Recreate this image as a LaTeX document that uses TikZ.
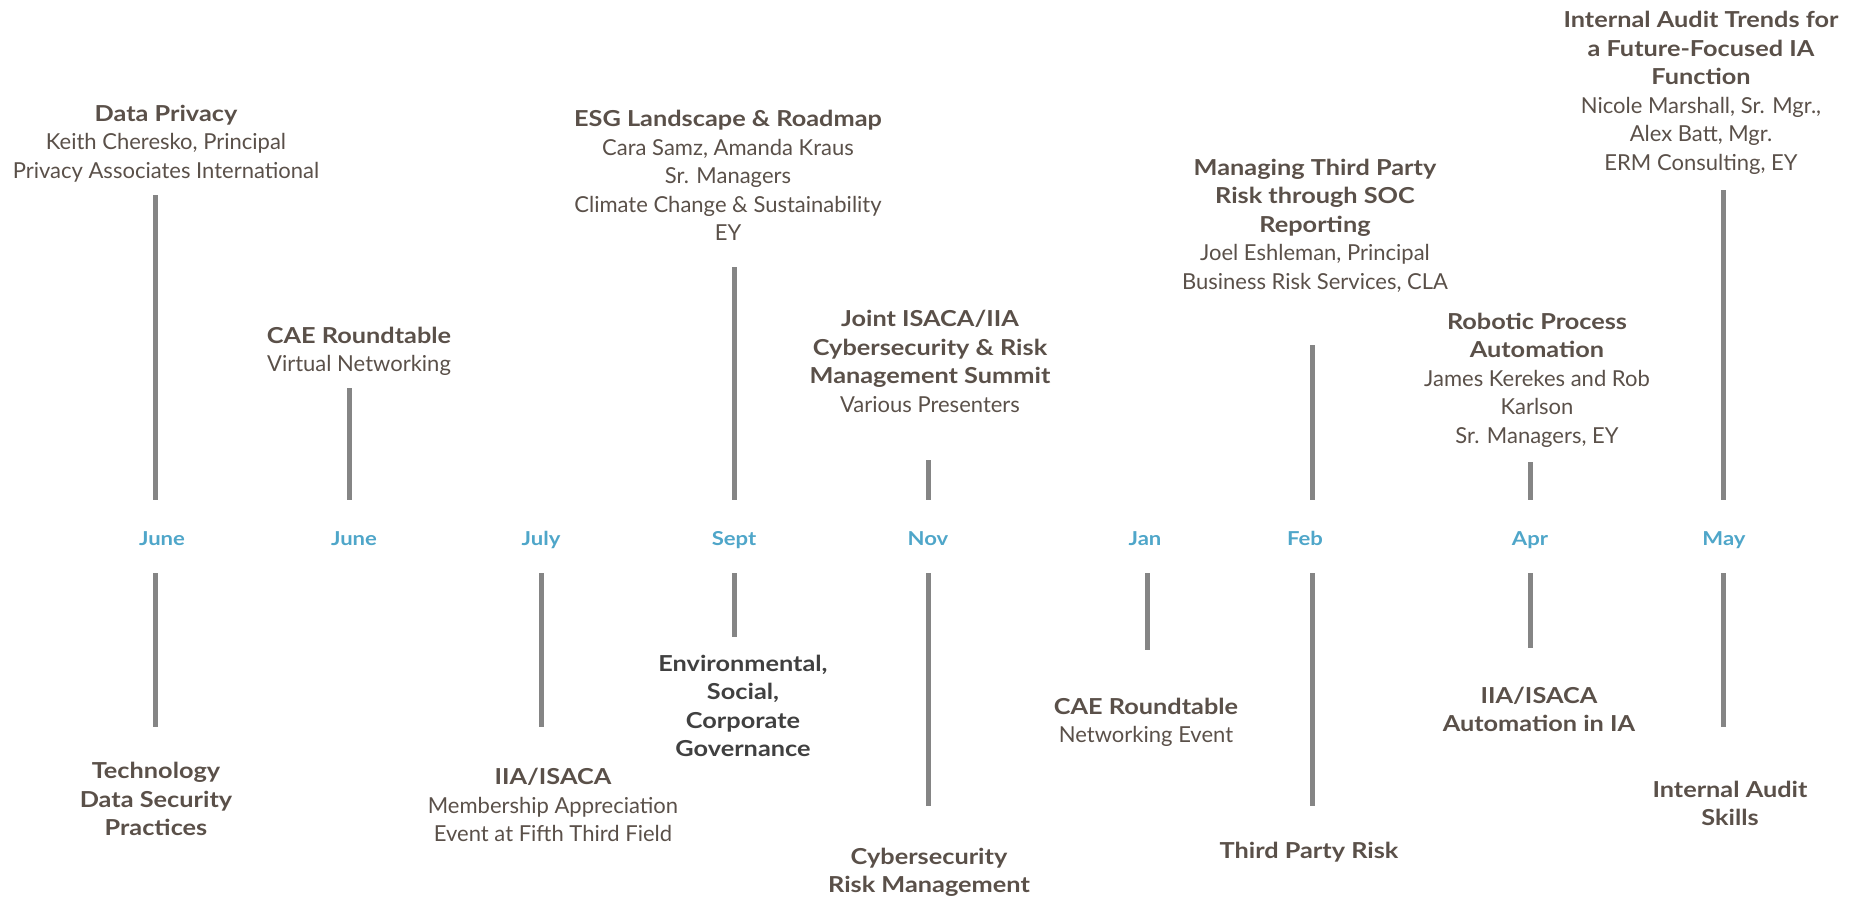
\documentclass[tikz,border=0pt]{standalone}
\usepackage{fontspec}
\setmainfont{Lato}[BoldFeatures={FakeStretch=1.15}]
\definecolor{txt}{HTML}{5A5049}
\definecolor{txtdark}{HTML}{404040}
\definecolor{mon}{HTML}{4FA6C9}
\definecolor{barc}{HTML}{858585}
\begin{document}
\begin{tikzpicture}[x=0.5pt,y=-0.5pt,
  lbl/.style={align=center,inner sep=0pt,text=txt,font=\fontsize{11}{14.25}\selectfont},
  lbldark/.style={lbl,text=txtdark},
  month/.style={inner sep=0pt,anchor=base,text=mon,font=\fontsize{9.6}{12}\selectfont\bfseries},
  bar/.style={draw=barc,line width=2.5pt}]
\path[use as bounding box] (0,0) rectangle (1853,900);

% upper labels
\node[lbl] (u1) at (166,143.5) {\textbf{Data Privacy}\\Keith Cheresko, Principal\\Privacy Associates International};
\node[lbl] (u2) at (359,351.5) {\textbf{CAE Roundtable}\\Virtual Networking};
\node[lbl] (u3) at (728,175.5) {\textbf{ESG Landscape \& Roadmap}\\Cara Samz, Amanda Kraus\\Sr. Managers\\Climate Change \& Sustainability\\EY};
\node[lbl] (u4) at (930,361.5) {\textbf{Joint ISACA/IIA}\\\textbf{Cybersecurity \& Risk}\\\textbf{Management Summit}\\Various Presenters};
\node[lbl] (u5) at (1315,225.5) {\textbf{Managing Third Party}\\\textbf{Risk through SOC}\\\textbf{Reporting}\\Joel Eshleman, Principal\\Business Risk Services, CLA};
\node[lbl] (u6) at (1537,380) {\textbf{Robotic Process}\\\textbf{Automation}\\James Kerekes and Rob\\Karlson\\Sr. Managers, EY};
\node[lbl] (u7) at (1701,93) {\textbf{Internal Audit Trends for}\\\textbf{a Future-Focused IA}\\\textbf{Function}\\Nicole Marshall, Sr. Mgr.,\\Alex Batt, Mgr.\\ERM Consulting, EY};

% months
\node[month] (m1) at (162,545) {June};
\node[month] (m2) at (354,545) {June};
\node[month] (m3) at (541,545) {July};
\node[month] (m4) at (734,545) {Sept};
\node[month] (m5) at (928,545) {Nov};
\node[month] (m6) at (1145,545) {Jan};
\node[month] (m7) at (1305,545) {Feb};
\node[month] (m8) at (1530,545) {Apr};
\node[month] (m9) at (1724,545) {May};

% lower labels
\node[lbl] (d1) at (156,799) {\textbf{Technology}\\\textbf{Data Security}\\\textbf{Practices}};
\node[lbl] (d2) at (553,805) {\textbf{IIA/ISACA}\\Membership Appreciation\\Event at Fifth Third Field};
\node[lbldark] (d3) at (743,706) {\textbf{Environmental,}\\\textbf{Social,}\\\textbf{Corporate}\\\textbf{Governance}};
\node[lbl] (d4) at (929,872.5) {\textbf{Cybersecurity}\\\textbf{Risk Management}};
\node[lbl] (d5) at (1146,722.5) {\textbf{CAE Roundtable}\\Networking Event};
\node[lbl] (d6) at (1309,852) {\textbf{Third Party Risk}};
\node[lbl] (d7) at (1539,709.5) {\textbf{IIA/ISACA}\\\textbf{Automation in IA}};
\node[lbl] (d8) at (1730,803.5) {\textbf{Internal Audit}\\\textbf{Skills}};

% bar end points
\coordinate (a1) at (155,195);  \coordinate (b1) at (155,500);
\coordinate (a2) at (349,388);  \coordinate (b2) at (349,500);
\coordinate (a4) at (734,267);  \coordinate (b4) at (734,500);
\coordinate (a5) at (928,460);  \coordinate (b5) at (928,500);
\coordinate (a7) at (1312,345); \coordinate (b7) at (1312,500);
\coordinate (a8) at (1530,462); \coordinate (b8) at (1530,500);
\coordinate (a9) at (1723,190); \coordinate (b9) at (1723,500);

\coordinate (c1) at (155,573);  \coordinate (e1) at (155,727);
\coordinate (c3) at (541,573);  \coordinate (e3) at (541,727);
\coordinate (c4) at (734,573);  \coordinate (e4) at (734,637);
\coordinate (c5) at (928,573);  \coordinate (e5) at (928,806);
\coordinate (c6) at (1147,573); \coordinate (e6) at (1147,650);
\coordinate (c7) at (1312,573); \coordinate (e7) at (1312,806);
\coordinate (c8) at (1530,573); \coordinate (e8) at (1530,648);
\coordinate (c9) at (1723,573); \coordinate (e9) at (1723,727);

\foreach \p/\q in {a1/b1,a2/b2,a4/b4,a5/b5,a7/b7,a8/b8,a9/b9,c1/e1,c3/e3,c4/e4,c5/e5,c6/e6,c7/e7,c8/e8,c9/e9}
  \draw[bar] (\p) -- (\q);
\end{tikzpicture}
\end{document}
